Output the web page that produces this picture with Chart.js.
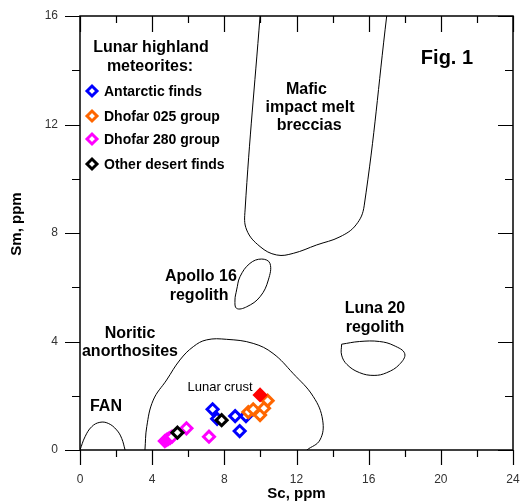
<!DOCTYPE html>
<html>
<head>
<meta charset="utf-8">
<script src="https://cdn.jsdelivr.net/npm/chart.js@4.4.1/dist/chart.umd.min.js"></script>
<style>
  html, body { margin: 0; padding: 0; background: #fff; }
  #wrap { width: 526px; height: 503px; }
</style>
</head>
<body>
<div id="wrap"><canvas id="chart"></canvas></div>
<script>
// axis ranges / tick labels
const xTicks = [0, 4, 8, 12, 16, 20, 24];
const yTicks = [0, 4, 8, 12, 16];

// lunar highland meteorites (Sc ppm, Sm ppm)
const antarcticSc = [7.35, 7.6, 8.6, 8.85, 9.2];
const antarcticSm = [1.5, 1.15, 1.25, 0.7, 1.25];
const dho025Sc = [9.33, 9.6, 9.98, 10.2, 10.4];
const dho025Sm = [1.4, 1.5, 1.29, 1.54, 1.82];
const dho280Sc = [4.7, 4.8, 4.9, 5.0, 5.1, 5.9, 7.15];
const dho280Sm = [0.33, 0.37, 0.41, 0.45, 0.49, 0.8, 0.49];
const otherSc = [5.4, 7.85];
const otherSm = [0.64, 1.1];
const crustSc = [9.98];
const crustSm = [2.03];

// field outlines
const fanSc = [0, 0.28, 0.65, 1.1, 1.57, 2.03, 2.31, 2.5];
const fanSm = [0, 0.49, 0.86, 1.02, 0.98, 0.74, 0.43, 0];
const noriticSc = [3.6, 3.7, 4.06, 4.8, 5.54, 6.28, 7.02, 8.13, 9.6, 10.7, 11.8, 12.93, 13.45, 13.3, 12.57];
const noriticSm = [0, 0.86, 1.84, 2.58, 3.32, 3.81, 4.06, 4.08, 3.93, 3.56, 2.83, 1.97, 1.1, 0.37, 0];
const maficSc = [9.98, 9.15, 9.24, 9.98, 10.9, 11.82, 13.12, 14.41, 15.3, 15.75, 17.0];
const maficSm = [16, 8.85, 8.11, 7.5, 7.19, 7.25, 7.56, 7.86, 8.3, 9.0, 16];
const apolloSc = [8.68, 8.87, 9.42, 10.07, 10.53, 10.44, 9.98, 9.24, 8.68, 8.59, 8.68];
const apolloSm = [5.9, 6.39, 6.88, 7.04, 6.88, 6.27, 5.65, 5.28, 5.22, 5.53, 5.9];
const luna20Sc = [14.5, 15.5, 16.6, 17.4, 18.0, 17.7, 17.0, 16.3, 15.5, 14.8, 14.5, 14.5];
const luna20Sm = [3.9, 4.0, 4.0, 3.85, 3.55, 3.15, 2.85, 2.75, 2.85, 3.15, 3.5, 3.9];

// text labels placed in data units
const fieldLabels = [
  { text: 'Fig. 1', x: 20.34, y: 14.45, size: 20, bold: true },
  { text: 'Mafic', x: 12.55, y: 13.27, size: 16, bold: true },
  { text: 'impact melt', x: 12.75, y: 12.62, size: 16, bold: true },
  { text: 'breccias', x: 12.7, y: 11.97, size: 16, bold: true },
  { text: 'Apollo 16', x: 6.7, y: 6.38, size: 16, bold: true },
  { text: 'regolith', x: 6.6, y: 5.68, size: 16, bold: true },
  { text: 'Luna 20', x: 16.35, y: 5.2, size: 16, bold: true },
  { text: 'regolith', x: 16.35, y: 4.53, size: 16, bold: true },
  { text: 'Noritic', x: 2.77, y: 4.28, size: 16, bold: true },
  { text: 'anorthosites', x: 2.77, y: 3.61, size: 16, bold: true },
  { text: 'FAN', x: 1.44, y: 1.59, size: 16, bold: true },
  { text: 'Lunar crust', x: 7.76, y: 2.29, size: 13, bold: false }
];

const legendTitle = ['Lunar highland', 'meteorites:'];
const legendNames = ['Antarctic finds', 'Dhofar 025 group', 'Dhofar 280 group', 'Other desert finds'];
const legendColors = ['#0000ff', '#ff6600', '#ff00ff', '#000000'];

const FONT = '"Liberation Sans", Arial, sans-serif';

function pts(xs, ys) {
  return xs.map((x, i) => ({ x: x, y: ys[i] }));
}

function markerSet(label, xs, ys, color, filled) {
  return {
    label: label,
    data: pts(xs, ys),
    showLine: false,
    pointStyle: 'rectRot',
    pointRadius: 5.5,
    pointBorderWidth: 3,
    pointBorderColor: color,
    pointBackgroundColor: filled ? color : '#ffffff'
  };
}

function outline(label, xs, ys) {
  return {
    label: label,
    data: pts(xs, ys),
    showLine: true,
    borderColor: '#000',
    borderWidth: 1,
    tension: 0.4,
    pointRadius: 0,
    fill: false
  };
}

function diamond(ctx, x, y, r, color) {
  ctx.beginPath();
  ctx.moveTo(x - r, y);
  ctx.lineTo(x, y - r);
  ctx.lineTo(x + r, y);
  ctx.lineTo(x, y + r);
  ctx.closePath();
  ctx.fillStyle = '#fff';
  ctx.fill();
  ctx.lineWidth = 3;
  ctx.strokeStyle = color;
  ctx.stroke();
}

// frame, minor/major ticks, titles, legend and field labels
const decor = {
  id: 'decor',
  afterDatasetsDraw(chart) {
    const ctx = chart.ctx;
    const xs = chart.scales.x, ys = chart.scales.y;
    const a = chart.chartArea;
    ctx.save();

    ctx.fillStyle = '#000';
    ctx.textAlign = 'center';
    ctx.textBaseline = 'middle';
    fieldLabels.forEach(l => {
      ctx.font = (l.bold ? 'bold ' : '') + l.size + 'px ' + FONT;
      ctx.fillText(l.text, xs.getPixelForValue(l.x), ys.getPixelForValue(l.y));
    });

    // legend
    ctx.font = 'bold 16px ' + FONT;
    ctx.fillText(legendTitle[0], 151, 48);
    ctx.fillText(legendTitle[1], 150, 67);
    ctx.textAlign = 'left';
    ctx.font = 'bold 14px ' + FONT;
    legendNames.forEach((n, i) => {
      const y = [91, 116, 139, 164][i];
      diamond(ctx, 92, y, 5, legendColors[i]);
      ctx.fillStyle = '#000';
      ctx.fillText(n, 104, y + 1);
    });

    // frame
    ctx.strokeStyle = '#000';
    ctx.lineWidth = 1.5;
    ctx.strokeRect(a.left, a.top, a.right - a.left, a.bottom - a.top);

    ctx.lineWidth = 1.2;
    ctx.beginPath();
    for (let v = 0; v <= 24; v += 2) {
      const px = Math.round(xs.getPixelForValue(v)) + 0.5;
      const major = v % 4 === 0;
      ctx.moveTo(px, a.bottom);
      ctx.lineTo(px, a.bottom + (major ? 15 : 7));
      ctx.moveTo(px, a.top);
      ctx.lineTo(px, a.top + (major ? 16 : 7));
    }
    for (let v = 0; v <= 16; v += 2) {
      const py = Math.round(ys.getPixelForValue(v)) + 0.5;
      const major = v % 4 === 0;
      ctx.moveTo(a.left, py);
      ctx.lineTo(a.left - (major ? 15 : 8), py);
      ctx.moveTo(a.right, py);
      ctx.lineTo(a.right - (major ? 15 : 8), py);
    }
    ctx.stroke();

    // axis titles
    ctx.fillStyle = '#000';
    ctx.font = 'bold 15px ' + FONT;
    ctx.textAlign = 'center';
    ctx.fillText('Sc, ppm', (a.left + a.right) / 2, 494);
    ctx.translate(17, 224);
    ctx.rotate(-Math.PI / 2);
    ctx.fillText('Sm, ppm', 0, 0);
    ctx.restore();
  }
};

new Chart(document.getElementById('chart'), {
  type: 'scatter',
  data: {
    datasets: [
      markerSet('Lunar crust', crustSc, crustSm, '#ff0000', true),
      markerSet('Other desert finds', otherSc, otherSm, '#000000', false),
      markerSet('Dhofar 280 group', dho280Sc, dho280Sm, '#ff00ff', false),
      markerSet('Dhofar 025 group', dho025Sc, dho025Sm, '#ff6600', false),
      markerSet('Antarctic finds', antarcticSc, antarcticSm, '#0000ff', false),
      outline('FAN', fanSc, fanSm),
      outline('Noritic anorthosites', noriticSc, noriticSm),
      outline('Mafic impact melt breccias', maficSc, maficSm),
      outline('Apollo 16 regolith', apolloSc, apolloSm),
      outline('Luna 20 regolith', luna20Sc, luna20Sm)
    ]
  },
  options: {
    responsive: true,
    maintainAspectRatio: false,
    animation: false,
    events: [],
    layout: { padding: { top: 16, right: 13, left: 0, bottom: 0 } },
    scales: {
      x: {
        type: 'linear',
        min: 0,
        max: 24,
        afterBuildTicks: s => { s.ticks = xTicks.map(v => ({ value: v })); },
        afterFit: s => { s.height = 53; s.paddingLeft = 0; s.paddingRight = 0; },
        grid: { display: false, drawTicks: false },
        border: { display: false },
        ticks: { padding: 22, color: '#333', font: { family: FONT, size: 12 } }
      },
      y: {
        type: 'linear',
        min: 0,
        max: 16,
        afterBuildTicks: s => { s.ticks = yTicks.map(v => ({ value: v })); },
        afterFit: s => { s.width = 80; s.paddingTop = 0; s.paddingBottom = 0; },
        grid: { display: false, drawTicks: false },
        border: { display: false },
        ticks: { padding: 22, color: '#333', font: { family: FONT, size: 12 } }
      }
    },
    plugins: {
      legend: { display: false },
      tooltip: { enabled: false }
    }
  },
  plugins: [decor]
});
</script>
</body>
</html>
